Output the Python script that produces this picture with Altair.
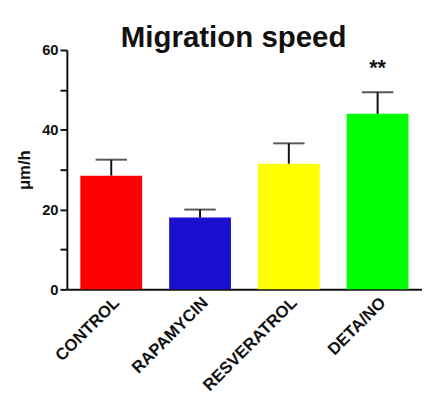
import altair as alt
import pandas as pd

categories = ["CONTROL", "RAPAMYCIN", "RESVERATROL", "DETA/NO"]
means = [28.5, 18.0, 31.5, 44.0]
errors = [4.0, 2.0, 5.1, 5.4]
colors = ["#ff0000", "#1a10d0", "#ffff00", "#00ff00"]
signif = ["", "", "", "**"]
star_y = [None, None, None, 55.5]

df = pd.DataFrame({
    "cat": categories,
    "mean": means,
    "upper": [m + e for m, e in zip(means, errors)],
    "sig": signif,
    "sy": star_y,
})

FONT = "Liberation Sans"

x = alt.X("cat:N", sort=categories,
          scale=alt.Scale(paddingInner=0.3, paddingOuter=0.15),
          axis=alt.Axis(title=None, labelAngle=-45, labelFont=FONT, labelFontWeight="bold",
                        labelFontSize=17, labelColor="#111", labelPadding=5,
                        ticks=False, domainColor="#111", domainWidth=2, labelAlign="right",
                        labelBaseline="top", labelOffset=0))

y_scale = alt.Scale(domain=[0, 60], nice=False)

bars = alt.Chart(df).mark_bar(size=63).encode(
    x=x,
    y=alt.Y("mean:Q", scale=y_scale,
            axis=alt.Axis(title="μm/h", values=[0, 10, 20, 30, 40, 50, 60],
                          labelExpr="datum.value % 20 == 0 ? datum.label : ''",
                          labelFont=FONT, labelFontWeight="bold", labelFontSize=15,
                          labelColor="#111", tickSize=7, tickWidth=2, tickColor="#111",
                          domainColor="#111", domainWidth=2, grid=False, labelPadding=2,
                          titleFont=FONT, titleFontWeight="bold", titleFontSize=17,
                          titleColor="#111", titlePadding=8)),
    color=alt.Color("cat:N", sort=categories, scale=alt.Scale(domain=categories, range=colors),
                    legend=None),
)

err = alt.Chart(df).mark_rule(color="#111", strokeWidth=2).encode(
    x=x, y="mean:Q", y2="upper:Q")

caps = alt.Chart(df).mark_tick(color="#111", thickness=2, size=32, orient="horizontal").encode(
    x=x, y="upper:Q")

stars = alt.Chart(df).mark_text(font=FONT, fontWeight="bold", fontSize=22, color="#111",
                                baseline="middle", dy=0).encode(
    x=x, y="sy:Q", text="sig:N")

chart = alt.layer(bars, err, caps, stars).properties(
    width=362, height=244,
    background="white",
    title=alt.TitleParams("Migration speed", font=FONT, fontWeight="bold", fontSize=30,
                          color="#111", anchor="middle", dx=-11, offset=0, dy=10),
    autosize=alt.AutoSizeParams(type="none"),
    padding={"left": 60, "top": 39, "right": 0, "bottom": 110},
).configure_view(stroke=None)

chart.save("out.html", embed_options={"renderer": "svg", "actions": False})
